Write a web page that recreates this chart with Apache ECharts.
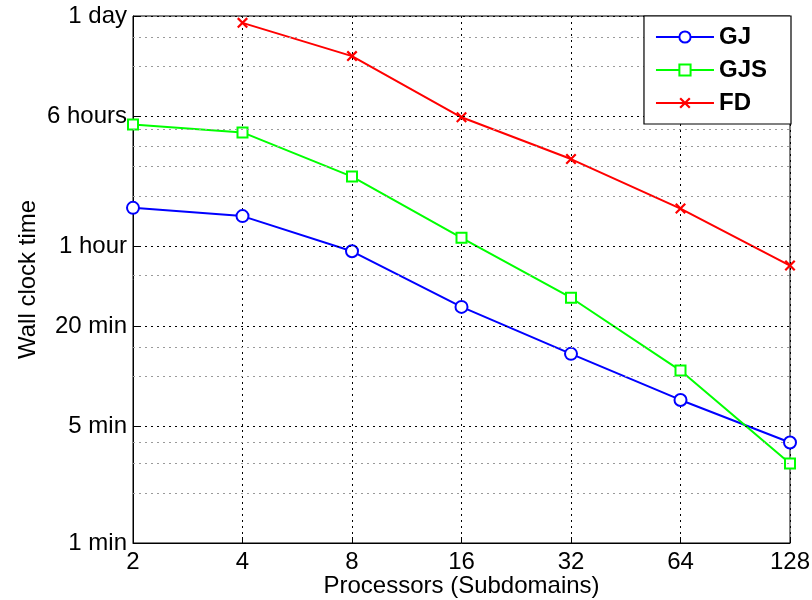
<!DOCTYPE html>
<html>
<head>
<meta charset="utf-8">
<script src="https://cdn.jsdelivr.net/npm/echarts@6/dist/echarts.min.js"></script>
<style>
  html, body { margin: 0; padding: 0; background: #fff; }
  #chart { width: 812px; height: 600px; }
</style>
</head>
<body>
<div id="chart"></div>
<script>
// Processor counts (subdomains) on the x axis
const processors = ['2', '4', '8', '16', '32', '64', '128'];

// Wall clock time in minutes for each solver
const gj  = [102, 91, 56, 26, 13.6, 7.2, 4.0];
const gjs = [322, 289, 157, 67.5, 29.5, 10.8, 3.0];
const fd  = [null, 1310, 828, 356, 200, 101, 46];

// Labelled y ticks (minutes) and their text
const yTickValues = [1, 5, 20, 60, 360, 1440];
const yTickLabels = ['1 min', '5 min', '20 min', '1 hour', '6 hours', '1 day'];

// Secondary (unlabelled) grid levels, in minutes
const yMinorValues = [2, 3, 4, 10, 15, 40, 120, 180, 240, 300, 720, 1080];

const FONT = 'Liberation Sans, Arial, Helvetica, sans-serif';
const crossPath = 'path://M0,1.4L1.4,0L10,8.6L8.6,10ZM8.6,0L10,1.4L1.4,10L0,8.6Z';

const chart = echarts.init(document.getElementById('chart'), null, { renderer: 'canvas' });

const gridLines = [];
yTickValues.forEach(v => gridLines.push({
  yAxis: v, lineStyle: { color: '#000', width: 1, type: [2, 4] }
}));
yMinorValues.forEach(v => gridLines.push({
  yAxis: v, lineStyle: { color: '#9a9a9a', width: 1, type: [2, 4] }
}));

chart.setOption({
  animation: false,
  backgroundColor: '#fff',
  grid: {
    left: 133, right: 22, top: 16, bottom: 57,
    show: true, borderColor: '#000', borderWidth: 1,
    containLabel: false, outerBoundsMode: 'none'
  },
  legend: {
    data: ['GJ', 'GJS', 'FD'],
    orient: 'vertical',
    right: 21, top: 16,
    z: 10,
    backgroundColor: '#fff',
    borderColor: '#000', borderWidth: 1.2,
    padding: [9, 24, 9, 11],
    itemWidth: 58, itemHeight: 14, itemGap: 9,
    lineStyle: { width: 2, type: 'solid' },
    textStyle: { fontFamily: FONT, fontSize: 24, fontWeight: 'bold', color: '#000' }
  },
  xAxis: {
    type: 'category',
    data: processors,
    boundaryGap: false,
    name: 'Processors (Subdomains)',
    nameLocation: 'middle',
    nameGap: 31,
    nameMoveOverlap: false,
    nameTextStyle: { fontFamily: FONT, fontSize: 24, color: '#000' },
    axisLine: { lineStyle: { color: '#000', width: 1 } },
    axisTick: { inside: true, length: 6, lineStyle: { color: '#000' } },
    axisLabel: { fontFamily: FONT, fontSize: 24, color: '#000', margin: 7 },
    splitLine: { show: true, lineStyle: { color: '#000', width: 1, type: [2, 4] } }
  },
  yAxis: {
    type: 'log',
    logBase: 10,
    min: 1,
    max: 1440,
    name: 'Wall clock time',
    nameLocation: 'middle',
    nameGap: 93,
    nameMoveOverlap: false,
    nameTextStyle: { fontFamily: FONT, fontSize: 24, color: '#000' },
    axisLine: { show: true, lineStyle: { color: '#000', width: 1 } },
    axisTick: { show: true, inside: true, length: 6, customValues: yTickValues, lineStyle: { color: '#000' } },
    axisLabel: {
      fontFamily: FONT, fontSize: 24, color: '#000', margin: 6,
      customValues: yTickValues,
      formatter: v => {
        const i = yTickValues.findIndex(t => Math.abs(t - v) < 1e-6 * t);
        return i >= 0 ? yTickLabels[i] : '';
      }
    },
    splitLine: { show: false },
    minorTick: { show: false },
    minorSplitLine: { show: false }
  },
  series: [
    {
      name: 'grid',
      type: 'line',
      data: [],
      z: 1,
      silent: true,
      markLine: {
        silent: true,
        symbol: ['none', 'none'],
        label: { show: false },
        animation: false,
        data: gridLines
      }
    },
    {
      name: 'GJ',
      type: 'line',
      data: gj,
      color: '#0000ff',
      lineStyle: { color: '#0000ff', width: 2, type: 'solid' },
      symbol: 'emptyCircle',
      symbolSize: 12,
      itemStyle: { color: '#0000ff', borderColor: '#0000ff', borderWidth: 2 },
      z: 3
    },
    {
      name: 'GJS',
      type: 'line',
      data: gjs,
      color: '#00ff00',
      lineStyle: { color: '#00ff00', width: 2, type: 'solid' },
      symbol: 'emptyRect',
      symbolSize: 10,
      itemStyle: { color: '#00ff00', borderColor: '#00ff00', borderWidth: 2 },
      z: 3
    },
    {
      name: 'FD',
      type: 'line',
      data: fd,
      color: '#ff0000',
      lineStyle: { color: '#ff0000', width: 2, type: 'solid' },
      symbol: crossPath,
      symbolSize: 11,
      itemStyle: { color: '#ff0000' },
      z: 3
    }
  ]
});
</script>
</body>
</html>
